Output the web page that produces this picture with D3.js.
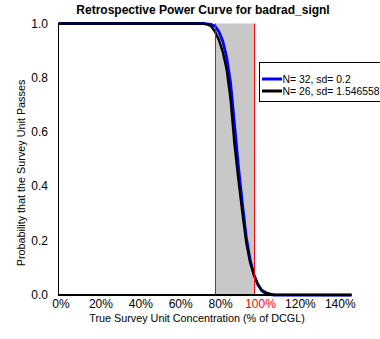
<!DOCTYPE html>
<html><head><meta charset="utf-8">
<script src="https://cdn.jsdelivr.net/npm/d3@7"></script>
<style>body{margin:0;background:#fff}svg{display:block}text{font-family:"Liberation Sans",Arial,sans-serif}</style>
</head><body>
<svg id="c" width="380" height="339"></svg>
<script>
const title = "Retrospective Power Curve for badrad_signl";
const xLabel = "True Survey Unit Concentration (% of DCGL)";
const yLabel = "Probability that the Survey Unit Passes";
const xTicks = [0, 0.2, 0.4, 0.6, 0.8, 1.0, 1.2, 1.4];
const yTicks = [0, 0.2, 0.4, 0.6, 0.8, 1.0];
const grayRange = [0.8, 1.0];
const conc = [0, 0.70, 0.72, 0.74, 0.76, 0.78, 0.80, 0.82, 0.84, 0.86, 0.88, 0.90, 0.92, 0.94, 0.96, 0.98, 1.00, 1.02, 1.04, 1.06, 1.08, 1.10, 1.5];
const blueP = [1, 1, 1, 1, 0.999, 0.997, 0.99, 0.97, 0.935, 0.875, 0.78, 0.63, 0.475, 0.34, 0.215, 0.13, 0.075, 0.037, 0.016, 0.006, 0.002, 0, 0];
const blackP = [1, 1, 1, 0.999, 0.997, 0.99, 0.97, 0.94, 0.895, 0.83, 0.72, 0.555, 0.425, 0.305, 0.195, 0.12, 0.072, 0.04, 0.018, 0.01, 0.005, 0.001, 0];
const seriesNames = ["N= 32, sd= 0.2", "N= 26, sd= 1.546558"];
const seriesColors = ["#0000ff", "#000000"];

const svg = d3.select("#c");
const x = d3.scaleLinear().domain([0, 1.5]).range([59, 351.5]);
const y = d3.scaleLinear().domain([0, 1]).range([295, 23.5]);

// shaded band
svg.append("rect").attr("x", x(grayRange[0])).attr("y", y(1))
  .attr("width", x(grayRange[1]) - x(grayRange[0])).attr("height", y(0) - y(1))
  .attr("fill", "#c8c8c8");

// y axis line
svg.append("line").attr("x1", 58.5).attr("x2", 58.5).attr("y1", y(1) - 1).attr("y2", y(0)).attr("stroke", "#000");

// curves
const line = d3.line().x((d, i) => x(conc[i])).y(d => y(d));
[blueP, blackP].forEach((s, k) => {
  svg.append("path").datum(s).attr("d", line).attr("fill", "none")
    .attr("stroke", seriesColors[k]).attr("stroke-width", k === 0 ? 2.8 : 2.4);
});

// red lines
grayRange.forEach(v => {
  svg.append("line").attr("x1", Math.round(x(v)) + 0.5).attr("x2", Math.round(x(v)) + 0.5)
    .attr("y1", y(1)).attr("y2", y(0)).attr("stroke", "#ff0000").attr("stroke-width", 1);
});

svg.append("line").attr("x1", 58).attr("x2", x(1.5)).attr("y1", 295).attr("y2", 295).attr("stroke", "#000").attr("stroke-width", 2);

// tick labels
svg.append("g").selectAll("text").data(yTicks).join("text")
  .attr("x", 48).attr("y", d => y(d) + 4).attr("text-anchor", "end")
  .attr("font-size", 12).text(d => d.toFixed(1));
svg.append("g").selectAll("text").data(xTicks).join("text")
  .attr("x", (d, i) => x(d) + 2 + i * 0.9).attr("y", 308).attr("text-anchor", "middle")
  .attr("font-size", 12).attr("fill", d => d === 1 ? "#ff0000" : "#000")
  .text(d => Math.round(d * 100) + "%");

// titles
svg.append("text").attr("x", 203).attr("y", 14).attr("text-anchor", "middle")
  .attr("font-size", 12).attr("font-weight", "bold").text(title);
svg.append("text").attr("x", 197).attr("y", 322).attr("text-anchor", "middle")
  .attr("font-size", 10.8).text(xLabel);
svg.append("text").attr("transform", "translate(25,173) rotate(-90)").attr("text-anchor", "middle")
  .attr("font-size", 10.8).text(yLabel);

// legend
const lg = svg.append("g");
lg.append("rect").attr("x", 259.5).attr("y", 62.5).attr("width", 140).attr("height", 39)
  .attr("fill", "#fff").attr("stroke", "#000");
seriesNames.forEach((n, k) => {
  const ly = 79 + k * 12;
  lg.append("line").attr("x1", 262).attr("x2", 282).attr("y1", ly).attr("y2", ly)
    .attr("stroke", seriesColors[k]).attr("stroke-width", 3);
  lg.append("text").attr("x", 282.5).attr("y", ly + 3.5).attr("font-size", 10.4).text(n);
});
</script>
</body></html>
